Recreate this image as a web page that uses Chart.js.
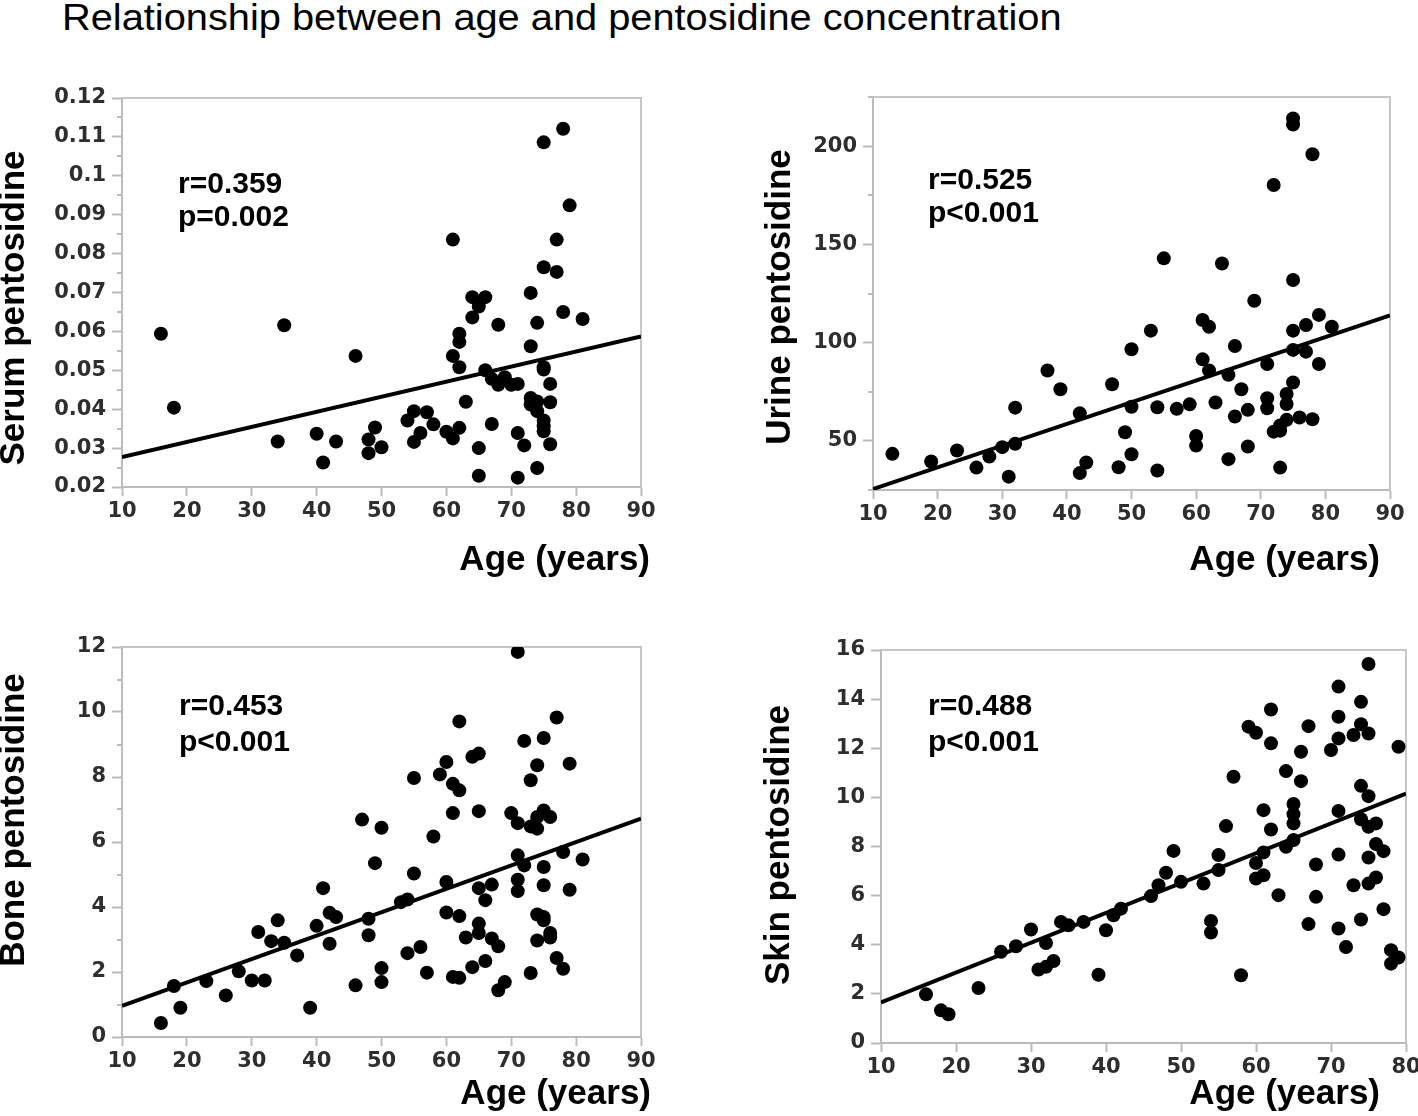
<!DOCTYPE html>
<html lang="en">
<head>
<meta charset="utf-8">
<title>Relationship between age and pentosidine concentration</title>
<script src="https://cdn.jsdelivr.net/npm/chart.js@4.4.1/dist/chart.umd.min.js"></script>
<style>
  html, body { margin: 0; padding: 0; background: #fff; }
  body { width: 1418px; height: 1116px; position: relative; overflow: hidden; }
  #titulo {
    position: absolute; left: 62px; top: -1px;
    font: 37px/37px "Liberation Sans", Arial, sans-serif; color: #000;
    white-space: nowrap; transform: scaleX(1.075); transform-origin: left top;
  }
  canvas { position: absolute; }
</style>
</head>
<body>
<div id="titulo">Relationship between age and pentosidine concentration</div>
<canvas id="serum"></canvas>
<canvas id="urine"></canvas>
<canvas id="bone"></canvas>
<canvas id="skin"></canvas>
<script>
// Ticks de los ejes
const ticksEdad = [10, 20, 30, 40, 50, 60, 70, 80, 90]
const ticksEdadPiel = [10, 20, 30, 40, 50, 60, 70, 80]
const ticksSuero = [0.02, 0.03, 0.04, 0.05, 0.06, 0.07, 0.08, 0.09, 0.1, 0.11, 0.12]
const ticksOrina = [50, 100, 150, 200]
const ticksHueso = [0, 2, 4, 6, 8, 10, 12]
const ticksPiel = [0, 2, 4, 6, 8, 10, 12, 14, 16]

// Suero (serum pentosidine)
const edadSuero = [16, 18, 35, 34, 40, 41, 43, 46, 48, 48, 49, 50, 54, 55, 55, 56, 57, 58, 60, 61,
  61, 61, 62, 62, 62, 62, 63, 64, 64, 65, 66, 65, 65, 66, 67, 67, 68, 68, 69, 70,
  71, 71, 71, 72, 73, 73, 73, 73, 74, 74, 74, 74, 75, 75, 75, 75, 75, 75, 75, 76,
  76, 76, 77, 77, 78, 78, 79, 81]
const valorSuero = [0.0594, 0.0404, 0.0616, 0.0317, 0.0337, 0.0263, 0.0317, 0.0537, 0.0322, 0.0287,
  0.0353, 0.0302, 0.0371, 0.0395, 0.0316, 0.0339, 0.0392, 0.0361, 0.0342, 0.0325,
  0.0836, 0.0537, 0.0594, 0.0573, 0.0508, 0.0352, 0.0419, 0.0688, 0.0636, 0.0664,
  0.0688, 0.0300, 0.0229, 0.0500, 0.0362, 0.0478, 0.0617, 0.0463, 0.0482, 0.0463,
  0.0465, 0.0339, 0.0224, 0.0307, 0.0699, 0.0562, 0.0429, 0.0412, 0.0622, 0.0420,
  0.0395, 0.0249, 0.1086, 0.0765, 0.0508, 0.0502, 0.0371, 0.0356, 0.0343, 0.0465,
  0.0418, 0.0310, 0.0836, 0.0753, 0.1121, 0.0650, 0.0924, 0.0632]
const rectaSuero = [0.0277, 0.0587]

// Orina (urine pentosidine)
const edadOrina = [13, 19, 23, 26, 28, 30, 31, 32, 32, 37, 39, 42, 42, 43, 47, 48, 49, 50, 50, 50,
  53, 54, 54, 55, 57, 59, 60, 60, 61, 61, 62, 62, 63, 64, 65, 65, 66, 66, 67, 68,
  68, 69, 71, 71, 71, 72, 72, 73, 73, 73, 74, 74, 74, 75, 75, 75, 75, 75, 75, 76,
  77, 77, 78, 78, 79, 79, 81]
const valorOrina = [43.4, 39.5, 45.1, 36.4, 42.0, 46.8, 31.8, 48.5, 66.9, 85.8, 76.3, 64.0, 33.6, 39.0,
  78.8, 36.6, 54.4, 96.6, 67.4, 43.2, 106.1, 67.1, 34.9, 142.9, 66.3, 68.6, 52.5, 47.6,
  111.5, 91.5, 108.1, 85.8, 69.5, 140.3, 83.6, 40.7, 98.3, 62.4, 76.3, 65.8, 47.1, 121.3,
  89.1, 71.7, 66.6, 180.2, 54.7, 55.2, 57.8, 36.4, 73.9, 68.8, 60.7, 214.1, 211.0, 131.9,
  106.1, 96.3, 79.7, 61.9, 109.0, 95.4, 195.9, 61.0, 114.1, 89.1, 108.1]
const rectaOrina = [25.5, 113.8]

// Hueso (bone pentosidine)
const edadHueso = [16, 18, 19, 23, 26, 28, 30, 31, 32, 33, 34, 35, 37, 39, 40, 41, 42, 42, 43, 46,
  47, 48, 48, 49, 50, 50, 50, 53, 54, 54, 55, 55, 56, 57, 58, 59, 60, 60, 60, 61,
  61, 61, 62, 62, 62, 62, 63, 64, 64, 65, 65, 65, 65, 65, 66, 66, 67, 67, 68, 68,
  69, 70, 71, 71, 71, 71, 71, 72, 72, 73, 73, 73, 74, 74, 74, 74, 74, 75, 75, 75,
  75, 75, 75, 76, 76, 76, 77, 77, 78, 78, 79, 79, 81]
const valorHueso = [0.43, 1.57, 0.90, 1.72, 1.28, 2.02, 1.74, 3.23, 1.74, 2.95, 3.59, 2.90, 2.51, 0.90,
  3.42, 4.58, 3.82, 2.87, 3.69, 1.59, 6.69, 3.64, 3.13, 5.35, 6.44, 2.12, 1.69, 4.15,
  4.23, 2.58, 7.97, 5.03, 2.77, 1.98, 6.17, 8.08, 8.46, 4.77, 3.83, 7.79, 6.89, 1.85,
  9.71, 7.59, 3.72, 1.82, 3.06, 8.62, 2.15, 8.72, 6.95, 4.58, 3.49, 3.20, 4.21, 2.34,
  4.69, 3.03, 2.79, 1.44, 1.69, 6.89, 11.85, 6.58, 5.59, 4.84, 4.49, 9.11, 5.28, 7.90,
  6.48, 1.97, 8.36, 6.77, 6.41, 3.77, 2.97, 9.20, 6.97, 5.23, 4.67, 3.69, 3.59, 6.77,
  3.20, 3.06, 2.43, 9.83, 5.69, 2.10, 8.41, 4.53, 5.46]
const rectaHueso = [0.96, 6.72]

// Piel (skin pentosidine)
const edadPiel = [16, 18, 19, 23, 26, 28, 30, 31, 32, 32, 33, 34, 35, 37, 39, 40, 41, 42, 46, 47,
  48, 49, 50, 53, 54, 54, 55, 55, 56, 57, 58, 59, 60, 60, 60, 61, 61, 61, 62, 62,
  62, 63, 64, 64, 65, 65, 65, 65, 66, 66, 67, 67, 68, 68, 70, 71, 71, 71, 71, 71,
  71, 72, 73, 73, 74, 74, 74, 74, 74, 75, 75, 75, 75, 75, 75, 76, 76, 76, 77, 77,
  78, 78, 79, 79]
const valorPiel = [1.98, 1.33, 1.17, 2.24, 3.71, 3.94, 4.62, 2.99, 4.07, 3.10, 3.34, 4.93, 4.79, 4.93,
  2.78, 4.59, 5.20, 5.47, 5.98, 6.42, 6.93, 7.82, 6.56, 6.49, 4.97, 4.50, 7.65, 7.04,
  8.83, 10.84, 2.76, 12.88, 12.63, 7.33, 6.70, 9.48, 7.76, 6.83, 13.58, 12.20, 8.69,
  6.02, 11.07, 7.99, 9.73, 9.32, 8.94, 8.26, 11.86, 10.66, 12.90, 4.84, 7.27, 5.95,
  11.93, 14.51, 13.28, 12.40, 9.45, 7.67, 4.66, 3.91, 12.54, 6.42, 13.89, 12.98, 10.47,
  9.11, 5.03, 15.43, 12.60, 10.05, 8.80, 7.55, 6.49, 8.94, 8.10, 6.74, 7.81, 5.45,
  3.78, 3.23, 3.48, 12.06]
const rectaPiel = [1.65, 10.15]

// Extremos en edad de las rectas de regresión
const extremosRecta = [10, 90]
const extremosRectaPiel = [10, 80]

const fuenteTicks = { family: '"DejaVu Sans", Verdana, sans-serif', size: 21, weight: 'bold' }
const fuenteTitulos = '"Liberation Sans", Arial, sans-serif'

// Plugin que dibuja el recuadro, los ticks menores y los textos de cada panel
const textosPlugin = {
  id: 'textos',
  beforeDatasetsDraw(chart, args, opts) {
    const { ctx, chartArea: a } = chart
    ctx.save()
    ctx.strokeStyle = '#c6c6c6'
    ctx.lineWidth = 2
    ctx.beginPath()
    ctx.moveTo(a.left, a.top)
    ctx.lineTo(a.right, a.top)
    ctx.lineTo(a.right, a.bottom)
    ctx.stroke()
    if (opts.menores) {
      const ejeY = chart.scales.y
      const valores = ejeY.ticks.map(t => t.value)
      const paso = valores[1] - valores[0]
      ctx.strokeStyle = '#bbb'
      for (let v = valores[0] - paso / 2; v <= ejeY.max + 1e-9; v += paso) {
        if (v < ejeY.min - 1e-9) continue
        const py = Math.round(ejeY.getPixelForValue(v))
        ctx.beginPath()
        ctx.moveTo(a.left - 5, py)
        ctx.lineTo(a.left, py)
        ctx.stroke()
      }
    }
    ctx.restore()
  },
  afterDraw(chart, args, opts) {
    const { ctx } = chart
    const [ox, oy] = opts.origen
    ctx.save()
    ctx.fillStyle = '#000'
    // Títulos de ejes
    ctx.font = 'bold 35px ' + fuenteTitulos
    ctx.textBaseline = 'alphabetic'
    ctx.textAlign = 'right'
    ctx.fillText(opts.tituloX.texto, opts.tituloX.x - ox, opts.tituloX.y - oy)
    ctx.save()
    ctx.translate(opts.tituloY.x - ox, opts.tituloY.y - oy)
    ctx.rotate(-Math.PI / 2)
    ctx.textAlign = 'center'
    ctx.fillText(opts.tituloY.texto, 0, 0)
    ctx.restore()
    // Correlación
    ctx.font = 'bold 30px ' + fuenteTitulos
    ctx.textAlign = 'left'
    opts.estadisticos.lineas.forEach((linea, i) => {
      ctx.fillText(linea, opts.estadisticos.x - ox, opts.estadisticos.y[i] - oy)
    })
    ctx.restore()
  }
}

const paneles = [
  {
    id: 'serum', lienzo: [0, 50, 709, 560], area: [122, 98, 641, 487],
    edades: edadSuero, valores: valorSuero, recta: rectaSuero, extremos: extremosRecta,
    ticksX: ticksEdad, ticksY: ticksSuero, minY: 0.02, maxY: 0.12, menores: true,
    tituloY: { texto: 'Serum pentosidine', x: 24, y: 308 },
    tituloX: { texto: 'Age (years)', x: 650, y: 570 },
    estadisticos: { lineas: ['r=0.359', 'p=0.002'], x: 178, y: [193, 226] }
  },
  {
    id: 'urine', lienzo: [709, 50, 709, 560], area: [873, 97, 1390, 490],
    edades: edadOrina, valores: valorOrina, recta: rectaOrina, extremos: extremosRecta,
    ticksX: ticksEdad, ticksY: ticksOrina, minY: 25, maxY: 225, menores: true,
    tituloY: { texto: 'Urine pentosidine', x: 790, y: 297 },
    tituloX: { texto: 'Age (years)', x: 1380, y: 570 },
    estadisticos: { lineas: ['r=0.525', 'p<0.001'], x: 928, y: [189, 222] }
  },
  {
    id: 'bone', lienzo: [0, 610, 709, 506], area: [122, 647, 641, 1037],
    edades: edadHueso, valores: valorHueso, recta: rectaHueso, extremos: extremosRecta,
    ticksX: ticksEdad, ticksY: ticksHueso, minY: 0, maxY: 12, menores: true,
    tituloY: { texto: 'Bone pentosidine', x: 24, y: 820 },
    tituloX: { texto: 'Age (years)', x: 651, y: 1104 },
    estadisticos: { lineas: ['r=0.453', 'p<0.001'], x: 179, y: [715, 751] }
  },
  {
    id: 'skin', lienzo: [709, 610, 709, 506], area: [881, 650, 1406, 1043],
    edades: edadPiel, valores: valorPiel, recta: rectaPiel, extremos: extremosRectaPiel,
    ticksX: ticksEdadPiel, ticksY: ticksPiel, minY: 0, maxY: 16, menores: false,
    tituloY: { texto: 'Skin pentosidine', x: 789, y: 845 },
    tituloX: { texto: 'Age (years)', x: 1380, y: 1104 },
    estadisticos: { lineas: ['r=0.488', 'p<0.001'], x: 928, y: [715, 751] }
  }
]

// Etiqueta numérica sin ceros sobrantes (0.1 en vez de 0.10)
function formatearTick(valor) {
  return String(parseFloat(valor.toFixed(3)))
}

function crearGrafico(panel) {
  const [cx, cy, cw, ch] = panel.lienzo
  const [l, t, r, b] = panel.area
  const anchoEjeY = 110
  const altoEjeX = 40
  const canvas = document.getElementById(panel.id)
  canvas.width = cw
  canvas.height = ch
  canvas.style.left = cx + 'px'
  canvas.style.top = cy + 'px'

  const puntos = panel.edades.map((edad, i) => ({ x: edad, y: panel.valores[i] }))
  const recta = panel.extremos.map((edad, i) => ({ x: edad, y: panel.recta[i] }))

  new Chart(canvas, {
    type: 'scatter',
    data: {
      datasets: [
        {
          data: puntos,
          pointRadius: 7,
          pointHoverRadius: 7,
          pointBackgroundColor: '#000',
          pointBorderWidth: 0
        },
        {
          type: 'line',
          data: recta,
          borderColor: '#000',
          borderWidth: 4,
          pointRadius: 0,
          fill: false
        }
      ]
    },
    options: {
      responsive: false,
      animation: false,
      events: [],
      layout: {
        padding: { left: l - cx - anchoEjeY, top: t - cy, right: cx + cw - r, bottom: cy + ch - b - altoEjeX }
      },
      plugins: {
        legend: { display: false },
        tooltip: { enabled: false },
        textos: {
          origen: [cx, cy],
          menores: panel.menores,
          tituloX: panel.tituloX,
          tituloY: panel.tituloY,
          estadisticos: panel.estadisticos
        }
      },
      scales: {
        x: {
          type: 'linear',
          min: panel.ticksX[0],
          max: panel.ticksX[panel.ticksX.length - 1],
          afterBuildTicks: s => { s.ticks = panel.ticksX.map(v => ({ value: v })) },
          afterFit: s => { s.height = altoEjeX; s.paddingLeft = 0; s.paddingRight = 0 },
          ticks: { font: fuenteTicks, color: '#2e2e2e', padding: 3, maxRotation: 0, autoSkip: false, callback: formatearTick },
          grid: { drawOnChartArea: false, tickLength: 9, tickColor: '#bbb', tickWidth: 2 },
          border: { color: '#bbb', width: 2 }
        },
        y: {
          type: 'linear',
          min: panel.minY,
          max: panel.maxY,
          afterBuildTicks: s => { s.ticks = panel.ticksY.map(v => ({ value: v })) },
          afterFit: s => { s.width = anchoEjeY; s.paddingTop = 0; s.paddingBottom = 0 },
          ticks: { font: fuenteTicks, color: '#2e2e2e', padding: 6, autoSkip: false, callback: formatearTick },
          grid: { drawOnChartArea: false, tickLength: 10, tickColor: '#bbb', tickWidth: 2 },
          border: { color: '#bbb', width: 2 }
        }
      }
    },
    plugins: [textosPlugin]
  })
}

window.onload = () => {
  paneles.forEach(panel => crearGrafico(panel))
}
</script>
</body>
</html>
